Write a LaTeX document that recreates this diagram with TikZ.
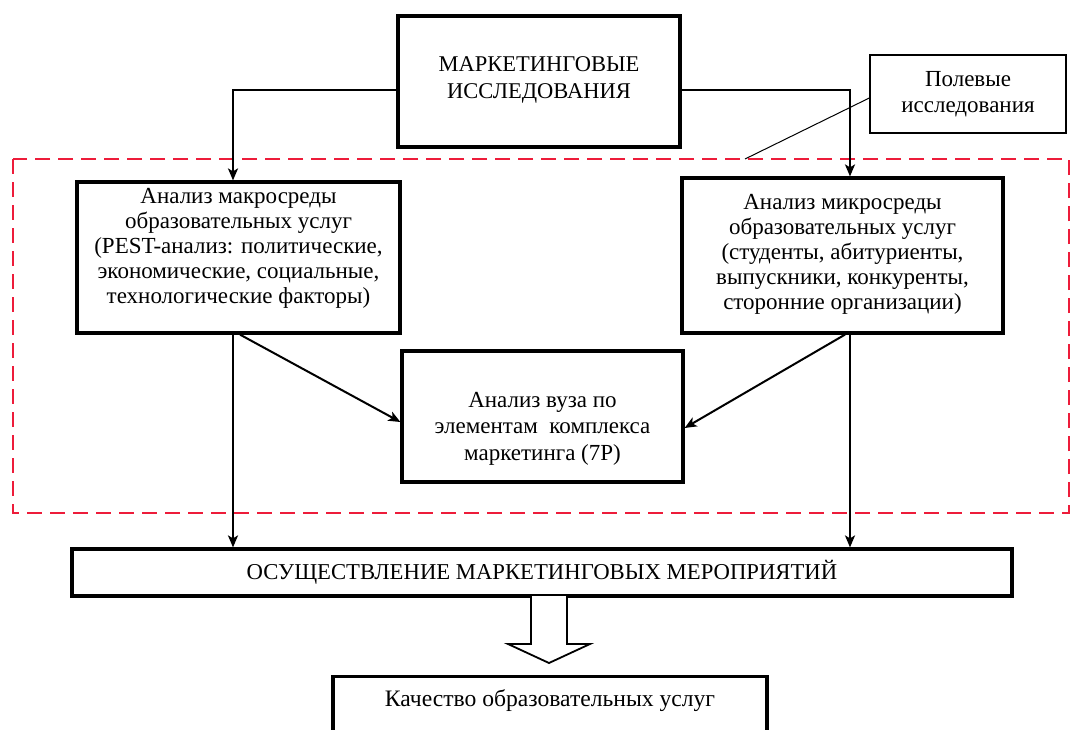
\documentclass[tikz,border=0pt]{standalone}
\usepackage{fontspec}
\setmainfont{Liberation Serif}
\usetikzlibrary{arrows.meta}
\definecolor{dashred}{RGB}{237,28,58}
\begin{document}
\begin{tikzpicture}[x=1pt,y=-1pt,
  box/.style={draw, line width=3.2pt, fill=white, align=center, inner sep=0pt},
  bodytext/.style={font=\fontsize{23}{25}\selectfont, align=center, inner sep=0pt},
  conn/.style={line width=2pt, -{Stealth[length=12pt,width=10pt,inset=3pt]}},
  thin/.style={line width=1pt}]
\useasboundingbox (0,0) rectangle (1074,729);
\fill[white] (0,0) rectangle (1074,729);
% dashed region
\draw[dashred, line width=2.8pt, dash pattern=on 15pt off 8pt] (13,159) rectangle (1069,513);
% nodes
\node[box, minimum width=282pt, minimum height=131pt] (top) at (539,81.5) {};
\node[font=\fontsize{22.5}{26.5}\selectfont, align=center, inner sep=0pt] (topt) at ([yshift=1.5pt]top.center) {МАРКЕТИНГОВЫЕ\\ИССЛЕДОВАНИЯ};
\node[draw, line width=1.4pt, fill=white, align=center, minimum width=196pt, minimum height=78pt, inner sep=0pt, font=\fontsize{23}{26}\selectfont] (lab) at (968,94) {Полевые\\исследования};
\node[box, minimum width=323pt, minimum height=151pt] (lb) at (238.5,257.5) {};
\node[bodytext] (lbt) at ([yshift=9pt]lb.center) {Анализ макросреды\\образовательных услуг\\(PEST-анализ: политические,\\экономические, социальные,\\технологические факторы)};
\node[box, minimum width=321pt, minimum height=155pt] (rb) at (842.5,255.5) {};
\node[bodytext] (rbt) at ([yshift=1pt]rb.center) {Анализ микросреды\\образовательных услуг\\(студенты, абитуриенты,\\выпускники, конкуренты,\\сторонние организации)};
\node[box, minimum width=281pt, minimum height=131pt] (mid) at (542.5,416.5) {};
\node[bodytext, font=\fontsize{23}{26.5}\selectfont] (midt) at ([yshift=-12pt]mid.center) {Анализ вуза по\\элементам\ \ комплекса\\маркетинга (7Р)};
\node[box, minimum width=940pt, minimum height=47pt, font=\fontsize{22.7}{25}\selectfont] (bot) at (542,572.5) {ОСУЩЕСТВЛЕНИЕ МАРКЕТИНГОВЫХ МЕРОПРИЯТИЙ};
\node[box, anchor=north, minimum width=434pt, inner sep=8pt, text height=22pt, text depth=50pt, font=\fontsize{23.6}{25}\selectfont] (q) at (550,675) {Качество образовательных услуг};
% connectors
\draw[conn] ([yshift=-8.5pt]top.west) -| ([xshift=-5.5pt]lb.north);
\draw[conn] ([yshift=-8.5pt]top.east) -| ([xshift=7.5pt]rb.north);
\draw[conn] ([xshift=-5.5pt]lb.south) -- ([xshift=-5.5pt]lb.south |- bot.north);
\draw[conn] ([xshift=7.5pt]rb.south) -- ([xshift=7.5pt]rb.south |- bot.north);
\draw[conn] ([xshift=1.5pt]lb.south) -- ([yshift=-5.5pt]mid.west);
\draw[conn] ([xshift=2.5pt]rb.south) -- ([yshift=-11.5pt]mid.east);
\coordinate (cp) at (745,159);
\draw[thin] ([yshift=-4pt]lab.west) -- (cp);
% hollow arrow
\draw[line width=1.8pt, fill=white] (531,596) -- (531,644) -- (508,644) -- (549,663) -- (590,644) -- (567,644) -- (567,596);
\end{tikzpicture}
\end{document}
